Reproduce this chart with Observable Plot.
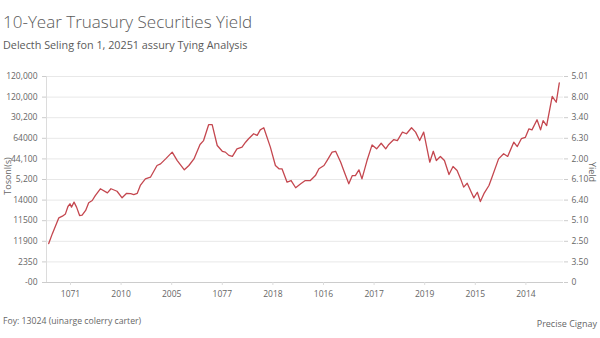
<!DOCTYPE html>
<html>
<head>
<meta charset="utf-8">
<script src="https://cdn.jsdelivr.net/npm/d3@7"></script>
<script src="https://cdn.jsdelivr.net/npm/@observablehq/plot@0.6"></script>
<style>
  html, body { margin: 0; padding: 0; background: #fff; }
  #wrap { position: relative; width: 600px; height: 338px; overflow: hidden; font-family: "Open Sans", "Noto Sans", sans-serif; color: #555; }
  .t { position: absolute; white-space: nowrap; }
  #title { left: 3px; top: 10px; font-size: 17px; font-weight: 300; color: #5a5a5a; }
  #subtitle { left: 3px; top: 37px; font-size: 10.8px; color: #5a5a5a; }
  #chart { position: absolute; left: 0; top: 60px; }
  #ylabL { left: 7px; top: 176px; font-size: 9px; color: #666; transform: translate(-50%, -50%) rotate(-90deg); }
  #ylabR { left: 592px; top: 172px; font-size: 9px; color: #666; transform: translate(-50%, -50%) rotate(90deg); }
  #caption { left: 3px; top: 315px; font-size: 8.7px; color: #666; }
  #credit { right: 3px; top: 317px; font-size: 9px; color: #666; }
</style>
</head>
<body>
<div id="wrap">
  <div class="t" id="title">10-Year Truasury Securities Yield</div>
  <div class="t" id="subtitle">Delecth Seling fon 1, 20251 assury Tying Analysis</div>
  <div id="chart"></div>
  <div class="t" id="ylabL">Tosonl(s)</div>
  <div class="t" id="ylabR">Yield</div>
  <div class="t" id="caption">Foy: 13024 (uinarge colerry carter)</div>
  <div class="t" id="credit">Precise Cignay</div>
</div>
<script>
// Tick labels (as printed in the reference)
const xTickLabels = ["1071", "2010", "2005", "1077", "2018", "1016", "2017", "2019", "2015", "2014"];
const leftTickLabels = ["-00", "2350", "11900", "11500", "14000", "5,200", "44,100", "64000", "30,200", "120,000", "120,000"];
const rightTickLabels = ["0", "3.50", "2.50", "5.10", "6.40", "6.10", "2.00", "6.30", "3.40", "8.00", "5.01"];

// Series (x in tick-period units, y in tick-row units)
const seriesX = [-0.43,-0.36,-0.30,-0.23,-0.16,-0.10,-0.05,-0.01,0.02,0.07,0.12,0.18,0.23,0.30,0.36,0.43,0.49,0.59,0.73,0.80,0.92,1.02,1.11,1.19,1.25,1.32,1.38,1.48,1.58,1.71,1.78,1.88,2.01,2.11,2.25,2.34,2.44,2.56,2.63,2.73,2.80,2.90,3.00,3.06,3.13,3.20,3.29,3.39,3.46,3.52,3.62,3.69,3.75,3.82,3.95,4.05,4.12,4.18,4.28,4.36,4.45,4.55,4.64,4.74,4.84,4.91,5.01,5.07,5.17,5.24,5.34,5.40,5.50,5.57,5.63,5.70,5.76,5.86,5.96,6.05,6.14,6.23,6.29,6.39,6.46,6.56,6.64,6.74,6.82,6.90,6.98,7.10,7.17,7.23,7.31,7.39,7.48,7.56,7.64,7.71,7.77,7.84,7.97,8.04,8.10,8.17,8.27,8.33,8.46,8.56,8.64,8.76,8.83,8.91,8.99,9.06,9.12,9.22,9.29,9.34,9.41,9.52,9.60,9.66];
const seriesY = [1.89,2.36,2.72,3.14,3.22,3.33,3.69,3.82,3.66,3.90,3.66,3.25,3.27,3.50,3.87,3.98,4.22,4.55,4.35,4.55,4.43,4.11,4.33,4.31,4.27,4.33,4.71,5.03,5.11,5.68,5.76,6.00,6.33,5.92,5.47,5.68,6.00,6.70,6.89,7.66,7.66,6.65,6.37,6.33,6.17,6.12,6.49,6.57,6.81,6.98,7.22,7.14,7.41,7.51,6.57,5.68,5.52,5.52,4.87,4.95,4.60,4.79,4.95,4.95,5.19,5.52,5.68,5.92,6.33,6.37,5.84,5.44,4.79,5.19,5.19,5.47,5.03,5.92,6.68,6.49,6.76,6.49,6.70,6.94,6.89,7.30,7.22,7.51,7.30,6.89,7.30,5.84,6.37,5.92,6.12,5.92,5.24,5.63,5.44,5.03,4.63,4.82,4.11,4.38,3.93,4.31,4.71,5.11,6.00,6.25,6.12,6.81,6.60,6.98,7.05,7.46,7.41,7.90,7.41,7.86,7.62,9.03,8.75,9.69];

const xTicks = d3.range(xTickLabels.length);
const yTicks = d3.range(leftTickLabels.length);
const points = seriesX.map((x, i) => ({x, y: seriesY[i]}));
const xDomain = [-0.474, 9.743];

const chart = Plot.plot({
  width: 600,
  height: 247,
  marginTop: 16,
  marginBottom: 25,
  marginLeft: 46,
  marginRight: 37,
  style: {fontFamily: "'Open Sans', 'Noto Sans', sans-serif", fontSize: "8.5px", color: "#666", background: "transparent"},
  x: {domain: xDomain},
  y: {domain: [0, 10]},
  marks: [
    Plot.gridY(yTicks, {stroke: "#e8e8e8", strokeOpacity: 1}),
    Plot.ruleY([0], {stroke: "#cccccc"}),
    Plot.ruleX([xDomain[0]], {stroke: "#dcdcdc"}),
    Plot.axisY(yTicks, {anchor: "left", tickFormat: d => leftTickLabels[d], tickSize: 4, tickPadding: 5, stroke: "#ccc", label: null}),
    Plot.axisY(yTicks, {anchor: "right", tickFormat: d => rightTickLabels[d], tickSize: 4, tickPadding: 4, stroke: "#ccc", label: null}),
    Plot.axisX(xTicks, {tickFormat: d => xTickLabels[d], tickSize: 3, tickPadding: 5, stroke: "#ddd", label: null}),
    Plot.line(points, {x: "x", y: "y", stroke: "#c4474f", strokeWidth: 1.3})
  ]
});
document.getElementById("chart").appendChild(chart);
</script>
</body>
</html>
